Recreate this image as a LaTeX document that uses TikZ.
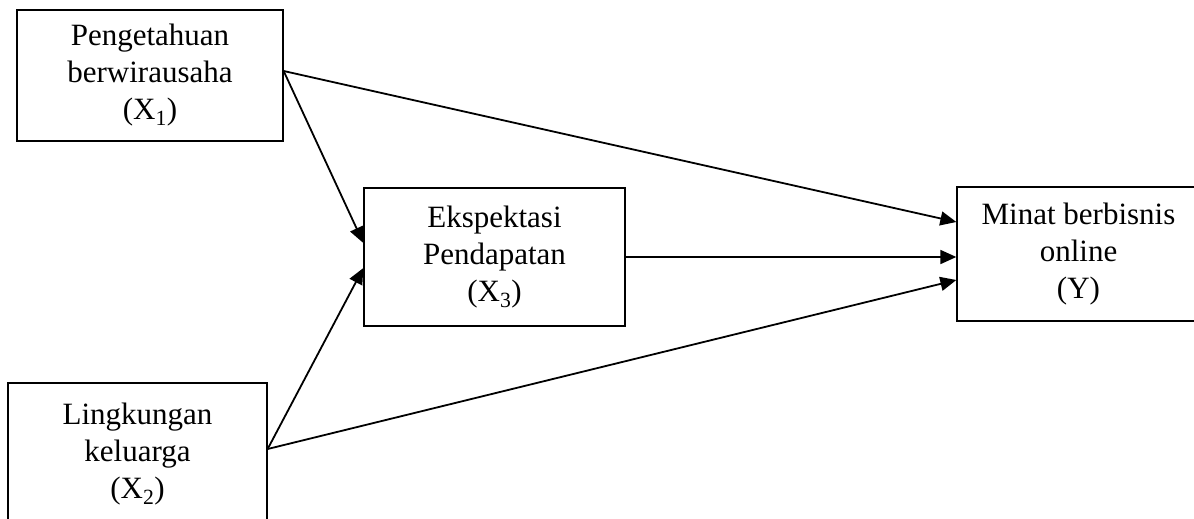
\documentclass[tikz,border=0pt]{standalone}
\usepackage{fontspec}
\setmainfont{Liberation Serif}
\usetikzlibrary{arrows.meta,calc}
\begin{document}
\begin{tikzpicture}[x=1pt,y=-1pt,
  box/.style={draw,line width=1.3pt,rectangle,align=center,inner sep=0pt,
    font=\fontsize{31}{37}\selectfont},
  link/.style={line width=1.8pt,-{Triangle[length=16pt,width=14pt]}}]
\useasboundingbox (0,0) rectangle (1194,519);
\node[box,minimum width=266pt,minimum height=131pt] (x1) at (150,75.5)
  {Pengetahuan\\berwirausaha\\(X\textsubscript{1})};
\node[box,minimum width=261pt,minimum height=138pt] (x3) at (494.5,257)
  {Ekspektasi\\Pendapatan\\(X\textsubscript{3})};
\node[box,minimum width=243pt,minimum height=134pt] (y) at (1078.5,254)
  {Minat berbisnis\\online\\(Y)};
\node[box,minimum width=259pt,minimum height=142pt] (x2) at (137.5,454)
  {Lingkungan\\keluarga\\(X\textsubscript{2})};
\coordinate (x1o) at ([yshift=4.5pt]x1.east);
\coordinate (x2o) at ([yshift=5pt]x2.east);
\draw[link] (x1o) -- ([yshift=14pt]x3.west);
\draw[link] (x2o) -- ([yshift=-11pt]x3.west);
\draw[link] (x1o) -- ([yshift=32pt]y.west);
\draw[link] (x3.east) -- (x3.east -| y.west);
\draw[link] (x2o) -- ([yshift=-26pt]y.west);
\end{tikzpicture}
\end{document}
